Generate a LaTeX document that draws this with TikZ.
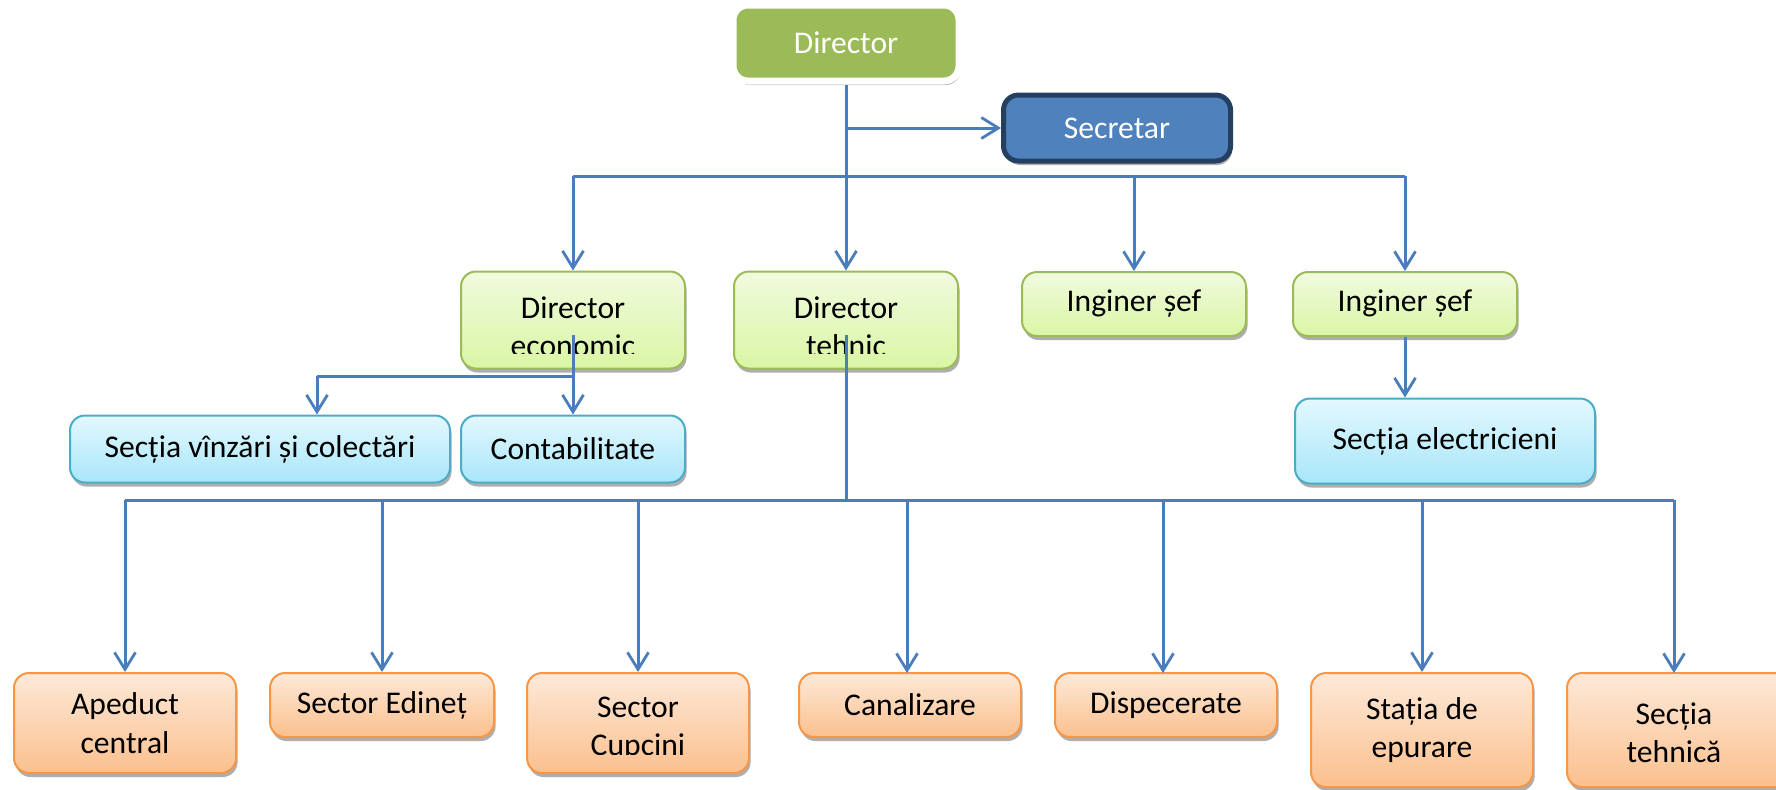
\documentclass[tikz,border=0pt]{standalone}
\usepackage{fontspec}
\setmainfont{Carlito}
\usetikzlibrary{arrows.meta,shadows,calc}
\definecolor{lnblue}{HTML}{4A7EBB}
\definecolor{dirgreen}{HTML}{9BBB59}
\definecolor{secfill}{HTML}{4F81BD}
\definecolor{secborder}{HTML}{243F60}
\definecolor{grtop}{HTML}{F1FADF}
\definecolor{grbot}{HTML}{D9F6A4}
\definecolor{grline}{HTML}{9BBB59}
\definecolor{bltop}{HTML}{E3F8FE}
\definecolor{blbot}{HTML}{A8E6FA}
\definecolor{blline}{HTML}{4BACC6}
\definecolor{ortop}{HTML}{FDE9D8}
\definecolor{orbot}{HTML}{FBC08E}
\definecolor{orline}{HTML}{F79646}
\definecolor{shadowgray}{HTML}{9A9A9A}
\begin{document}
\begin{tikzpicture}[x=0.5pt,y=-0.5pt,
  box/.style={rounded corners=7.5pt, inner sep=2pt, align=center,
    font=\fontsize{15.8}{19.2}\selectfont,
    drop shadow={shadow xshift=0.8pt, shadow yshift=-2pt, fill=shadowgray, opacity=0.8}},
  dirbox/.style={box, fill=dirgreen, draw=white, line width=3.5pt, text=white,
    minimum width=113pt, minimum height=38pt},
  secbox/.style={box, fill=secfill, draw=secborder, line width=2.5pt, text=white,
    minimum width=113.5pt, minimum height=33pt},
  grbox/.style={box, draw=grline, line width=1pt, top color=grtop, bottom color=grbot},
  blbox/.style={box, draw=blline, line width=1pt, top color=bltop, bottom color=blbot},
  orbox/.style={box, draw=orline, line width=1pt, top color=ortop, bottom color=orbot},
  lbl/.style={align=center, inner sep=0pt, font=\fontsize{15.8}{19.2}\selectfont},
  conn/.style={draw=lnblue, line width=1.5pt},
  arr/.style={conn, -{Straight Barb[length=8.5pt,width=10.5pt,line width=1.4pt]}}
]
\clip (0,0) rectangle (1776,789);
\fill[white] (0,0) rectangle (1776,789);

% top level
\node[dirbox] (dir) at (846,43) {Director};
\node[secbox] (sec) at (1117,128) {Secretar};

% second level
\node[grbox, minimum width=112pt, minimum height=48.5pt] (deco) at (573,320) {};
\node[grbox, minimum width=112pt, minimum height=48.5pt] (teh) at (846,320) {};
\node[grbox, minimum width=112pt, minimum height=32pt] (ing1) at (1134,304) {Inginer șef};
\node[grbox, minimum width=112pt, minimum height=32pt] (ing2) at (1405,304) {Inginer șef};

\begin{scope}
  \clip (deco.north west) rectangle ($(deco.east |- 0,353)$);
  \node[lbl] (decot) at ($(deco.center)+(0,7)$) {Director\\economic};
\end{scope}
\begin{scope}
  \clip (teh.north west) rectangle ($(teh.east |- 0,353)$);
  \node[lbl] (teht) at ($(teh.center)+(0,7)$) {Director\\tehnic};
\end{scope}

% third level
\node[blbox, minimum width=190pt, minimum height=33.5pt] (vanz) at (260,449) {Secția vînzări și colectări};
\node[blbox, minimum width=112pt, minimum height=33.5pt] (cont) at (573,449) {Contabilitate};
\node[blbox, minimum width=150pt, minimum height=42.5pt] (elec) at (1445,441) {Secția electricieni};

% bottom level
\node[orbox, minimum width=111pt, minimum height=50pt] (apd) at (125,723) {Apeduct\\central};
\node[orbox, minimum width=112pt, minimum height=32pt] (edi) at (382,705) {Sector Edineț};
\node[orbox, minimum width=111pt, minimum height=50pt] (cup) at (638,723) {};
\node[orbox, minimum width=111pt, minimum height=32pt] (can) at (910,705) {Canalizare};
\node[orbox, minimum width=111pt, minimum height=32pt] (disp) at (1166,705) {Dispecerate};
\node[orbox, minimum width=111pt, minimum height=57pt] (stat) at (1422,730) {Stația de\\epurare};
\node[orbox, minimum width=112pt, minimum height=57pt] (sth) at (1679,730) {};
\node[lbl] (stht) at (1674,733) {Secția\\tehnică};
\begin{scope}
  \clip (cup.north west) rectangle ($(cup.east |- 0,754)$);
  \node[lbl] (cupt) at ($(cup.center)+(0,6)$) {Sector\\Cupcini};
\end{scope}

% connectors: director
\coordinate (busA) at (846,176);
\draw[conn] (dir.south) -- (busA);
\draw[arr] (dir.south |- sec.west) -- (sec.west);
\draw[conn] (deco.north |- busA) -- (ing2.north |- busA);
\draw[arr] (deco.north |- busA) -- (deco.north);
\draw[arr] (busA) -- (teh.north);
\draw[arr] (ing1.north |- busA) -- (ing1.north);
\draw[arr] (ing2.north |- busA) -- (ing2.north);

% inginer sef -> electricieni
\draw[arr] (ing2.south) -- (ing2.south |- elec.north);

% director economic
\coordinate (ecoS) at (573,335);
\coordinate (ecoJ) at (573,376);
\coordinate (vanzJ) at (317,376);
\draw[conn] (ecoS) -- (ecoJ) -- (vanzJ);
\draw[arr] (vanzJ) -- (vanzJ |- vanz.north);
\draw[arr] (ecoJ) -- (cont.north);

% director tehnic
\coordinate (tehS) at (846,335);
\coordinate (busB) at (846,500);
\draw[conn] (tehS) -- (busB);
\draw[conn] (apd.north |- busB) -- (1674,500);
\draw[arr] (apd.north |- busB) -- (apd.north);
\draw[arr] (edi.north |- busB) -- (edi.north);
\draw[arr] (cup.north |- busB) -- (cup.north);
\draw[arr] (907,500) -- (907,673);
\draw[arr] (1163,500) -- (1163,673);
\draw[arr] (stat.north |- busB) -- (stat.north);
\draw[arr] (1674,500) -- (1674,673);
\end{tikzpicture}
\end{document}
